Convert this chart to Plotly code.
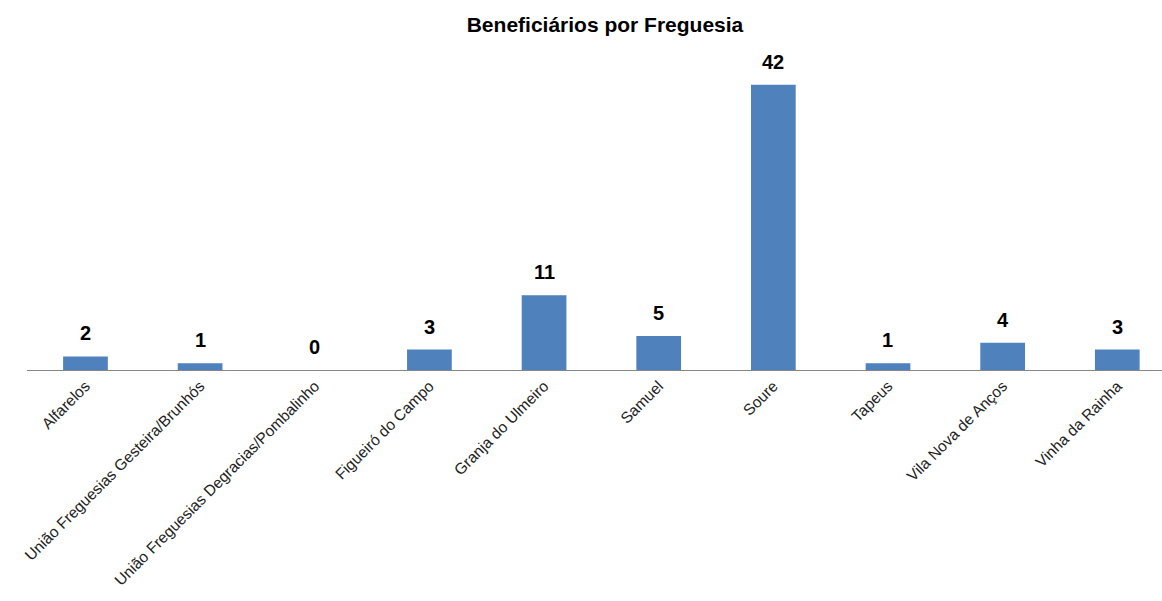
import plotly.graph_objects as go

categories = ["Alfarelos", "União Freguesias Gesteira/Brunhós", "União Freguesias Degracias/Pombalinho",
              "Figueiró do Campo", "Granja do Ulmeiro", "Samuel", "Soure", "Tapeus",
              "Vila Nova de Anços", "Vinha da Rainha"]
values = [2, 1, 0, 3, 11, 5, 42, 1, 4, 3]

W, H = 1162, 601

fig = go.Figure(go.Bar(
    x=categories, y=values,
    marker=dict(color="#4F81BD", line=dict(width=0)),
    width=0.39,
    hoverinfo="x+y",
))

for c, v in zip(categories, values):
    fig.add_annotation(
        x=c, y=v, text="<b>" + str(v) + "</b>", showarrow=False,
        xanchor="center", yanchor="bottom", yshift=10,
        font=dict(family="Liberation Sans, Arial", size=20, color="#000000"),
    )

fig.update_layout(
    width=W, height=H,
    paper_bgcolor="white", plot_bgcolor="white",
    margin=dict(l=27, r=0, t=50, b=231, pad=0),
    title=dict(text="<b>Beneficiários por Freguesia</b>", x=605 / W, xanchor="center", xref="container",
               y=1 - 25 / H, yanchor="middle",
               font=dict(family="Liberation Sans, Arial", size=21, color="#000000")),
    showlegend=False,
    xaxis=dict(tickangle=-45, showline=True, linecolor="#868686", linewidth=1,
               range=[-0.51, 9.39],
               showgrid=False, ticks="", automargin=False,
               tickfont=dict(family="Liberation Sans, Arial", size=15.5, color="#222222")),
    yaxis=dict(range=[0, 47.1], visible=False, showgrid=False, zeroline=False),
)

fig.write_html("out.html", config={"displayModeBar": False},
               post_script="document.body.style.margin='0';document.body.style.overflow='hidden';")
